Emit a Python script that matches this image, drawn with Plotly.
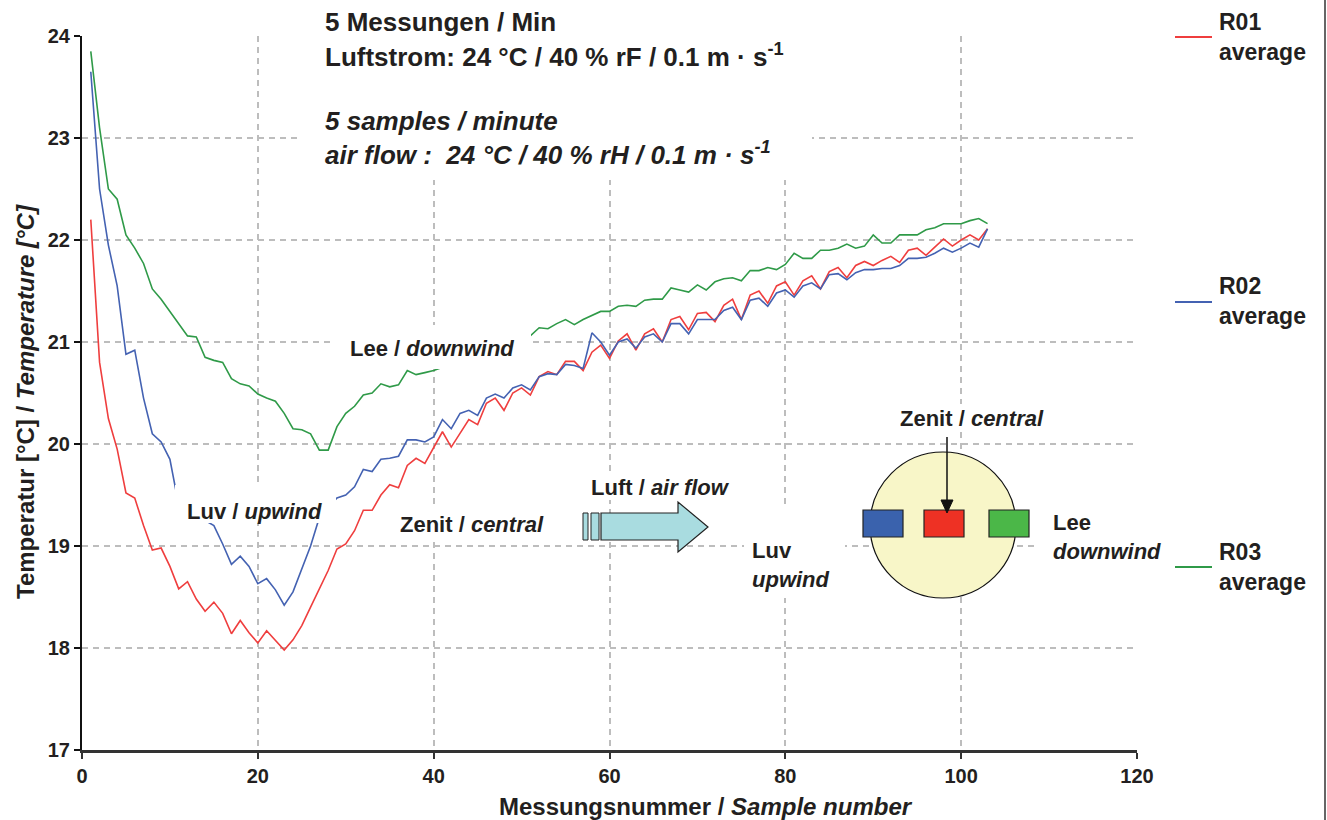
import plotly.graph_objects as go

# ---------------- data ----------------
sample = list(range(1, 104))

r01 = [22.2, 20.8, 20.25, 19.95, 19.52, 19.47, 19.2, 18.96, 18.98, 18.8,
       18.58, 18.65, 18.48, 18.36, 18.45, 18.34, 18.14, 18.27, 18.15, 18.05,
       18.17, 18.08, 17.98, 18.08, 18.22, 18.4, 18.58, 18.76, 18.97, 19.02,
       19.15, 19.35, 19.35, 19.5, 19.6, 19.57, 19.79, 19.86, 19.81, 19.96,
       20.12, 19.97, 20.1, 20.24, 20.19, 20.4, 20.45, 20.33, 20.5, 20.55,
       20.48, 20.66, 20.71, 20.68, 20.81, 20.81, 20.72, 20.9, 20.97, 20.84,
       21.01, 21.08, 20.92, 21.08, 21.13, 21.0, 21.22, 21.25, 21.12, 21.28,
       21.29, 21.2, 21.36, 21.42, 21.22, 21.46, 21.5, 21.38, 21.55, 21.59,
       21.46, 21.6, 21.65, 21.52, 21.69, 21.73, 21.63, 21.75, 21.79, 21.75,
       21.8, 21.84, 21.78, 21.9, 21.92, 21.85, 21.93, 22.01, 21.94, 22.0,
       22.05, 22.0, 22.11]

r02 = [23.65, 22.5, 21.95, 21.55, 20.88, 20.92, 20.45, 20.1, 20.02, 19.85,
       19.4, None, None, None, 19.2, 19.02, 18.82, 18.9, 18.8, 18.63,
       18.68, 18.57, 18.42, 18.55, 18.78, 19.0, 19.28, None, 19.47, 19.5,
       19.58, 19.75, 19.73, 19.85, 19.86, 19.88, 20.04, 20.04, 20.02, 20.07,
       20.24, 20.15, 20.3, 20.33, 20.28, 20.45, 20.49, 20.45, 20.55, 20.58,
       20.53, 20.66, 20.69, 20.68, 20.78, 20.77, 20.74, 21.09, 21.0, 20.87,
       21.0, 21.03, 20.94, 21.05, 21.08, 21.0, 21.18, 21.18, 21.08, 21.22,
       21.22, 21.22, 21.31, 21.34, 21.22, 21.41, 21.43, 21.35, 21.48, 21.51,
       21.44, 21.55, 21.58, 21.52, 21.66, 21.67, 21.61, 21.68, 21.71, 21.71,
       21.72, 21.72, 21.75, 21.82, 21.82, 21.83, 21.87, 21.92, 21.88, 21.92,
       21.97, 21.93, 22.11]

r03 = [23.85, 23.1, 22.5, 22.4, 22.05, 21.92, 21.77, 21.52, 21.42, 21.3,
       21.17, 21.06, 21.05, 20.85, 20.82, 20.8, 20.64, 20.59, 20.57, 20.49,
       20.45, 20.42, 20.3, 20.15, 20.14, 20.1, 19.94, 19.94, 20.17, 20.3,
       20.37, 20.48, 20.5, 20.59, 20.56, 20.58, 20.72, 20.68, 20.7, 20.72,
       None, None, None, None, None, None, None, None, None, None,
       21.06, 21.14, 21.13, 21.18, 21.22, 21.17, 21.22, 21.26, 21.3, 21.3,
       21.35, 21.36, 21.35, 21.41, 21.42, 21.42, 21.53, 21.51, 21.49, 21.56,
       21.51, 21.59, 21.62, 21.63, 21.6, 21.7, 21.7, 21.73, 21.71, 21.76,
       21.87, 21.82, 21.82, 21.9, 21.9, 21.92, 21.96, 21.92, 21.94, 22.05,
       21.97, 21.97, 22.05, 22.05, 22.05, 22.1, 22.12, 22.16, 22.16, 22.16,
       22.19, 22.21, 22.16]

series_names = ["R01<br>average", "R02<br>average", "R03<br>average"]
series_colors = ["#EF3E3E", "#4462B2", "#2F9A48"]

x_ticks = [0, 20, 40, 60, 80, 100, 120]
y_ticks = [17, 18, 19, 20, 21, 22, 23, 24]

# ---------------- layout helpers (pixel -> paper) ----------------
W, H = 1327, 820
L, R, T, B = 82, 1137, 36, 750


def px(v):
    return (v - L) / (R - L)


def py(v):
    return (B - v) / (B - T)


FONT = "Liberation Sans, Arial, sans-serif"
TXT = "#231F20"

fig = go.Figure()
for vals, col in zip([r01, r02, r03], series_colors):
    fig.add_trace(go.Scatter(x=sample, y=vals, mode="lines", connectgaps=True,
                             line=dict(color=col, width=1.6), showlegend=False,
                             hoverinfo="skip"))

shapes = []


def box(x0, y0, x1, y1, fill="white", line=None, lw=0):
    shapes.append(dict(type="rect", xref="paper", yref="paper",
                       x0=px(x0), x1=px(x1), y0=py(y1), y1=py(y0),
                       fillcolor=fill, line=dict(width=lw, color=line or fill),
                       layer="above"))


def poly(pts, fill, line="#222", lw=1.2):
    path = "M " + " L ".join(f"{px(a):.5f},{py(b):.5f}" for a, b in pts) + " Z"
    shapes.append(dict(type="path", xref="paper", yref="paper", path=path,
                       fillcolor=fill, line=dict(color=line, width=lw),
                       layer="above"))


# white cover boxes behind labels
box(302, -5, 812, 180)          # title block
box(333, 325, 531, 369)         # Lee / downwind
box(175, 485, 336, 523)         # Luv / upwind
box(744, 505, 845, 598)         # Luv upwind (diagram)
box(1035, 500, 1165, 572)       # Lee downwind (diagram)
box(395, 508, 550, 541)         # Zenit / central (lower)
box(588, 474, 733, 500)         # Luft / air flow
box(898, 404, 1047, 432)        # Zenit / central (diagram)

# diagram: circle + sensors
shapes.append(dict(type="circle", xref="paper", yref="paper",
                   x0=px(870), x1=px(1016), y0=py(598), y1=py(452),
                   fillcolor="#F8F6C8", line=dict(color="#111", width=1.2),
                   layer="above"))
box(863, 510, 903, 537, fill="#3A62AD", line="#222", lw=1.2)
box(924, 510, 964, 537, fill="#EE3124", line="#222", lw=1.2)
box(989, 510, 1029, 537, fill="#4BB748", line="#222", lw=1.2)

# pointer arrow to central sensor
shapes.append(dict(type="line", xref="paper", yref="paper",
                   x0=px(947), x1=px(947), y0=py(437), y1=py(503),
                   line=dict(color="#111", width=1.5), layer="above"))
poly([(941, 500), (953, 500), (947, 513)], fill="#111", line="#111", lw=1)

# air flow arrow
box(583, 513, 588, 540, fill="#A9DCE0", line="#222", lw=1)
box(591, 513, 599, 540, fill="#A9DCE0", line="#222", lw=1)
poly([(601, 513), (678, 513), (678, 502), (708, 527), (678, 552), (678, 540), (601, 540)],
     fill="#A9DCE0")

# legend line samples
for ly, col in zip([37, 302, 567], series_colors):
    shapes.append(dict(type="line", xref="paper", yref="paper",
                       x0=px(1175), x1=px(1212), y0=py(ly), y1=py(ly),
                       line=dict(color=col, width=2)))

# right frame line
shapes.append(dict(type="line", xref="paper", yref="paper",
                   x0=px(1325), x1=px(1325), y0=py(0), y1=py(820),
                   line=dict(color="#666", width=2)))

annotations = []


def label(text, x, y, size=22, xanchor="center", align="center", angle=0):
    annotations.append(dict(text=text, xref="paper", yref="paper", x=px(x), y=py(y),
                            xanchor=xanchor, yanchor="middle", showarrow=False,
                            align=align, textangle=angle,
                            font=dict(family=FONT, size=size, color=TXT, weight="bold")))


label("5 Messungen / Min", 323, 22, size=26, xanchor="left")
label("Luftstrom: 24 °C / 40 % rF / 0.1 m · s<sup>-1</sup>", 323, 55, size=26, xanchor="left")
label("<i>5 samples / minute</i>", 323, 121, size=26, xanchor="left")
label("<i>air flow :\u00a0 24 °C / 40 % rH / 0.1 m · s<sup>-1</sup></i>", 323, 153, size=26, xanchor="left")

label("Lee / <i>downwind</i>", 432, 348)
label("Luv / <i>upwind</i>", 254, 511)
label("Zenit / <i>central</i>", 472, 524)
label("Luft / <i>air flow</i>", 660, 487)
label("Luv<br><i>upwind</i>", 750, 565, xanchor="left", align="left")
label("Zenit / <i>central</i>", 972, 418)
label("Lee<br><i>downwind</i>", 1051, 537, xanchor="left", align="left")

for ly, name in zip([37, 301, 567], series_names):
    label(name, 1217, ly, size=23, xanchor="left", align="left")

# axis titles
label("Messungsnummer / <i>Sample number</i>", 706, 806, size=24)
label("Temperatur [°C] / <i>Temperature [°C]</i>", 26, 402, size=24, angle=-90)

fig.update_layout(
    width=W, height=H,
    margin=dict(l=L, r=W - R, t=T, b=H - B, pad=0),
    paper_bgcolor="white", plot_bgcolor="white",
    shapes=shapes, annotations=annotations,
    showlegend=False,
)
fig.update_xaxes(range=[0, 120], tickvals=x_ticks, ticktext=[str(v) for v in x_ticks],
                 showgrid=True, gridcolor="#BDBDBD", gridwidth=1.5, griddash="6px,5px",
                 showline=True, linecolor="#333", linewidth=3, zeroline=False,
                 ticks="outside", ticklen=6, tickwidth=1.5, tickcolor="#333",
                 tickfont=dict(family=FONT, size=20, color=TXT, weight="bold"))
fig.update_yaxes(range=[17, 24], tickvals=y_ticks, ticktext=[str(v) for v in y_ticks],
                 showgrid=True, gridcolor="#BDBDBD", gridwidth=1.5, griddash="6px,5px",
                 showline=True, linecolor="#111", linewidth=2, zeroline=False,
                 ticks="outside", ticklen=6, tickwidth=1.5, tickcolor="#111",
                 tickfont=dict(family=FONT, size=20, color=TXT, weight="bold"))

fig.write_html("out.html")
